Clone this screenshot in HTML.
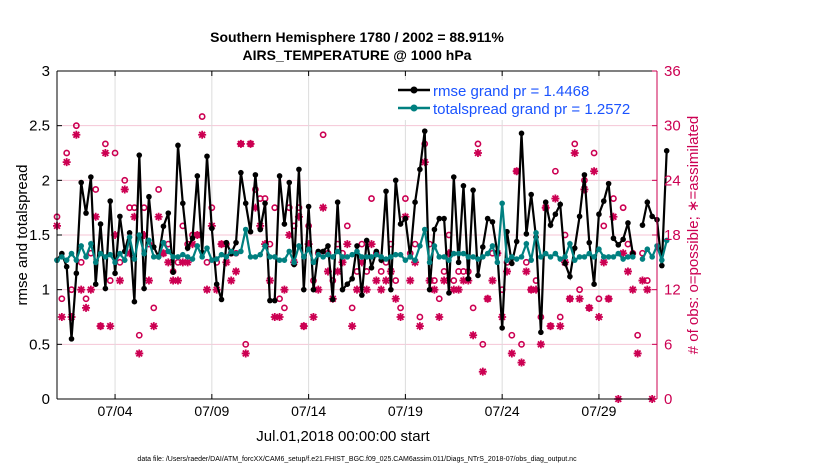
<!DOCTYPE html>
<html><head><meta charset="utf-8"><style>
body{margin:0;background:#fff}
svg text{font-family:"Liberation Sans",sans-serif}
</style></head><body>
<svg id="chart" width="830" height="470" xmlns="http://www.w3.org/2000/svg">
<rect width="830" height="470" fill="#fff"/>
<text x="357" y="42" text-anchor="middle" font-size="14" font-weight="bold">Southern Hemisphere 1780 / 2002 = 88.911%</text>
<text x="357" y="60" text-anchor="middle" font-size="14" font-weight="bold">AIRS_TEMPERATURE @ 1000 hPa</text>
<g id="grid"></g><g id="marks"></g><g id="axes"></g>
<text transform="translate(27,235) rotate(-90)" text-anchor="middle" font-size="15">rmse and totalspread</text>
<text transform="translate(698,235) rotate(-90)" text-anchor="middle" font-size="15" fill="#cc0052"># of obs: o=possible; ∗=assimilated</text>
<text x="343" y="441" text-anchor="middle" font-size="15">Jul.01,2018 00:00:00 start</text>
<text x="357" y="461" text-anchor="middle" font-size="7">data file: /Users/raeder/DAI/ATM_forcXX/CAM6_setup/f.e21.FHIST_BGC.f09_025.CAM6assim.011/Diags_NTrS_2018-07/obs_diag_output.nc</text>
<g>
<rect x="388" y="80" width="258" height="40" fill="#fff"/>
<line x1="398" y1="90" x2="430" y2="90" stroke="#000" stroke-width="2.5"/><circle cx="414" cy="90" r="3.5" fill="#000"/>
<text x="433" y="96" font-size="15" fill="#1a53ff">rmse grand pr = 1.4468</text>
<line x1="398" y1="108" x2="430" y2="108" stroke="#008080" stroke-width="2.5"/><circle cx="414" cy="108" r="3.5" fill="#008080"/>
<text x="433" y="114" font-size="15" fill="#1a53ff">totalspread grand pr = 1.2572</text>
</g>
</svg>
<script>
const rmse=[1.27,1.33,1.21,0.55,1.15,1.98,1.70,2.03,1.05,1.60,1.01,1.81,1.15,1.67,1.35,1.52,0.89,2.23,1.01,1.85,1.39,1.30,1.58,1.70,1.16,2.32,1.79,1.38,1.47,2.04,1.34,2.22,1.56,1.05,0.91,1.43,1.33,1.43,2.07,1.79,1.53,2.05,1.55,1.79,0.90,0.90,2.04,1.60,1.98,1.23,2.10,1.00,1.76,1.00,1.35,1.35,1.40,0.91,1.80,1.00,1.05,1.10,1.40,0.95,1.45,1.20,1.35,1.27,1.90,1.00,2.00,1.60,1.65,1.30,1.80,2.10,2.45,1.00,1.55,1.65,1.65,0.97,2.03,1.25,1.95,1.10,1.91,1.13,1.39,1.65,1.62,1.34,0.65,1.53,1.24,1.44,2.43,1.51,1.87,1.48,0.61,1.80,1.59,1.69,1.78,1.24,1.12,1.38,1.67,2.05,1.43,1.05,1.69,1.81,1.97,1.47,1.41,1.46,1.61,1.33,null,1.59,1.80,1.67,1.64,1.22,2.27];
const spread=[1.27,1.30,1.27,1.33,1.27,1.40,1.30,1.42,1.25,1.33,1.30,1.32,1.25,1.33,1.27,1.48,1.28,1.50,1.33,1.45,1.30,1.30,1.43,1.35,1.30,1.30,1.32,1.30,1.28,1.40,1.30,1.38,1.27,1.28,1.32,1.30,1.35,1.33,1.35,1.55,1.30,1.30,1.32,1.40,1.30,1.30,1.27,1.27,1.35,1.25,1.40,1.30,1.37,1.25,1.32,1.30,1.32,1.30,1.35,1.30,1.30,1.32,1.35,1.30,1.30,1.30,1.32,1.30,1.28,1.30,1.32,1.32,1.27,1.30,1.27,1.40,1.55,1.25,1.40,1.30,1.30,1.27,1.33,1.33,1.33,1.30,1.30,1.28,1.30,1.33,1.40,1.25,1.79,1.27,1.30,1.28,1.30,1.42,1.27,1.52,1.30,1.33,1.30,1.33,1.28,1.30,1.42,1.27,1.30,1.30,1.33,1.30,1.37,1.30,1.30,1.30,1.33,1.28,1.30,1.30,null,1.28,1.37,1.30,1.40,1.27,1.45];
const possible=[20,11,27,12,30,15,11,16,23,8,28,13,27,15,24,21,21,7,21,17,10,23,16,17,14,15,19,17,18,18,31,15,21,15,17,17,16,16,28,6,28,23,22,22,17,21,11,10,21,19,21,8,19,13,16,29,16,13,17,16,19,10,14,17,14,22,16,14,15,17,13,10,22,16,17,9,28,17,13,11,14,18,13,14,14,14,10,28,6,11,16,16,12,15,7,25,6,15,12,13,9,21,8,25,9,18,11,28,12,24,10,27,11,19,11,22,null,21,17,16,7,16,13,null];
const assimilated=[19,9,26,9,29,12,10,12,20,8,27,8,18,13,23,16,20,5,18,13,8,20,16,15,13,13,15,15,17,18,29,12,19,12,17,15,13,14,28,5,28,21,19,17,13,9,9,12,18,15,20,8,17,9,12,21,14,11,14,15,17,8,12,15,12,17,13,12,13,14,11,9,20,13,15,8,26,13,12,9,13,16,12,12,13,13,7,27,3,11,13,16,9,14,5,25,4,14,12,12,6,21,8,22,8,15,11,27,11,23,10,25,9,15,11,20,0,16,14,12,5,13,12,0];
const dateTicks=["07/04","07/09","07/14","07/19","07/24","07/29"];
const dateTickDays=[3,8,13,18,23,28];
const leftTicks=[0,0.5,1,1.5,2,2.5,3];
const rightTicks=[0,6,12,18,24,30,36];

const X0=57,X1=657,Y0=399,Y1=71,NS="http://www.w3.org/2000/svg";
const xDay=d=>X0+(X1-X0)*d/31;
const xi=i=>xDay(i*0.25);
const yL=v=>Y0-(Y0-Y1)*v/3;
const yR=v=>Y0-(Y0-Y1)*v/36;
function mk(tag,attrs,parent){const e=document.createElementNS(NS,tag);for(const k in attrs)e.setAttribute(k,attrs[k]);parent.appendChild(e);return e;}
const grid=document.getElementById('grid'),marks=document.getElementById('marks'),axes=document.getElementById('axes');
rightTicks.forEach(t=>{if(t>0&&t<36){const l=mk('line',{x1:X0,x2:X1,y1:yR(t),y2:yR(t),stroke:'#f4c6d6','stroke-width':1},grid);

}});
dateTickDays.forEach((d,i)=>{const l=mk('line',{x1:xDay(d),x2:xDay(d),y1:Y1,y2:Y0,stroke:'#dcdcdc','stroke-width':1},grid);


const t=mk('text',{x:xDay(d),y:Y0+17,'text-anchor':'middle','font-size':14},axes);t.textContent=dateTicks[i];


mk('line',{x1:xDay(d),x2:xDay(d),y1:Y0,y2:Y0-5,stroke:'#000'},axes);mk('line',{x1:xDay(d),x2:xDay(d),y1:Y1,y2:Y1+5,stroke:'#000'},axes);});
possible.forEach((v,i)=>{if(v==null)return;const c=mk('circle',{cx:xi(i),cy:yR(v),r:2.6,fill:'none',stroke:'#cc0052','stroke-width':1.6},marks);

});
assimilated.forEach((v,i)=>{if(v==null)return;const x=xi(i),y=yR(v),r=4;
const d=`M${x-r},${y}L${x+r},${y}M${x},${y-r}L${x},${y+r}M${x-2.9},${y-2.9}L${x+2.9},${y+2.9}M${x-2.9},${y+2.9}L${x+2.9},${y-2.9}`;
const p=mk('path',{d:d,stroke:'#cc0052','stroke-width':1.8,fill:'none'},marks);

});
function series(arr,color,name){let d='',pen=false;arr.forEach((v,i)=>{if(v==null){pen=false;return;}d+=(pen?'L':'M')+xi(i).toFixed(1)+','+yL(v).toFixed(1);pen=true;});
const p=mk('path',{d:d,fill:'none',stroke:color,'stroke-width':2.2},marks);


arr.forEach((v,i)=>{if(v==null)return;const c=mk('circle',{cx:xi(i),cy:yL(v),r:2.8,fill:color},marks);

});}
series(rmse,'#000','rmse');
series(spread,'#008080','totalspread');
mk('line',{x1:X0,x2:X1,y1:Y1,y2:Y1,stroke:'#000'},axes);
mk('line',{x1:X0,x2:X1,y1:Y0,y2:Y0,stroke:'#000'},axes);
mk('line',{x1:X0,x2:X0,y1:Y1,y2:Y0,stroke:'#000'},axes);
mk('line',{x1:X1,x2:X1,y1:Y1,y2:Y0,stroke:'#cc0052'},axes);
leftTicks.forEach(t=>{mk('line',{x1:X0,x2:X0+5,y1:yL(t),y2:yL(t),stroke:'#000'},axes);
const tx=mk('text',{x:X0-7,y:yL(t)+5,'text-anchor':'end','font-size':15},axes);tx.textContent=String(t);

});
rightTicks.forEach(t=>{mk('line',{x1:X1,x2:X1-5,y1:yR(t),y2:yR(t),stroke:'#cc0052'},axes);
const tx=mk('text',{x:X1+7,y:yR(t)+5,'font-size':15,fill:'#cc0052'},axes);tx.textContent=String(t);

});
</script>
</body></html>
